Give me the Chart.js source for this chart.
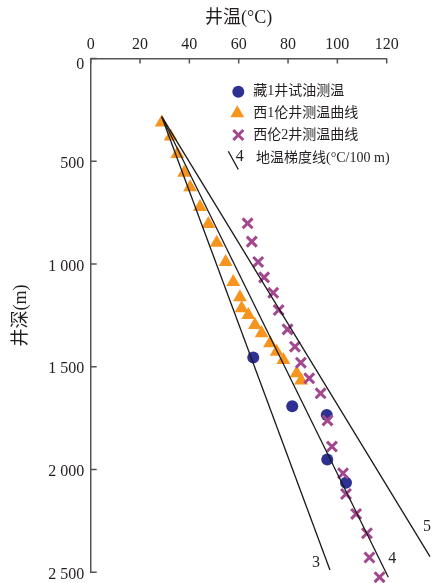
<!DOCTYPE html>
<html>
<head>
<meta charset="utf-8">
<script src="https://cdn.jsdelivr.net/npm/chart.js@4/dist/chart.umd.min.js"></script>
<style>
  html, body { margin: 0; padding: 0; background: #fff; }
  #wrap { width: 447px; height: 583px; }
</style>
</head>
<body>
<div id="wrap"><canvas id="c" width="447" height="583"></canvas></div>
<script>
// Axis ticks
const tempTicks = [0, 20, 40, 60, 80, 100, 120];
const depthTicks = [0, 500, 1000, 1500, 2000, 2500];
const depthTickLabels = ['0', '500', '1 000', '1 500', '2 000', '2 500'];

// 藏1井试油测温: temperature (°C) and depth (m)
const zang1Temp  = [65.9, 81.7, 95.7, 95.9, 103.5];
const zang1Depth = [1455, 1692, 1735, 1951, 2064];

// 西1伦井测温曲线
const xilun1Temp  = [28.8, 32.4, 35.1, 37.9, 40.3, 44.3, 47.7, 51.1, 54.7, 57.8,
                     60.5, 61.2, 63.9, 66.6, 69.3, 72.7, 75.4, 78.1, 83.5, 85.3];
const xilun1Depth = [312, 380, 465, 556, 626, 722, 805, 896, 990, 1088,
                     1162, 1215, 1248, 1297, 1337, 1386, 1427, 1467, 1531, 1567];

// 西伦2井测温曲线
const xilun2Temp  = [63.6, 65.3, 67.9, 70.3, 74.0, 76.2, 79.8, 82.8, 85.2, 88.6,
                     93.2, 96.0, 97.8, 102.3, 103.5, 107.6, 112.0, 113.0, 117.1];
const xilun2Depth = [802, 891, 990, 1065, 1140, 1224, 1318, 1402, 1480, 1556,
                     1629, 1761, 1888, 2018, 2119, 2216, 2310, 2428, 2524];

// 地温梯度线 (°C/100 m): common origin and the far end of each line
const gradNames     = ['3', '4', '5'];
const gradStart     = [28.8, 283];
const gradEndTemp   = [97.0, 120.65, 137.55];
const gradEndDepth  = [2489, 2524, 2424];

const SERIF = "'Liberation Serif', 'Times New Roman', 'Noto Sans CJK SC', serif";
const AXIS_COLOR = '#555';
const TEXT_COLOR = '#231f20';
const NAVY = '#2e3192';
const ORANGE = '#f7941d';
const PURPLE = '#a3478f';

const pts = (xs, ys) => xs.map((v, i) => ({ x: v, y: ys[i] }));

const gradDatasets = gradNames.map((n, i) => ({
  label: n,
  data: [{ x: gradStart[0], y: gradStart[1] }, { x: gradEndTemp[i], y: gradEndDepth[i] }],
  showLine: true,
  borderColor: '#1a1a1a',
  borderWidth: 1.3,
  pointRadius: 0,
  fill: false,
  clip: false
}));

const decor = {
  id: 'decor',
  afterDraw(chart) {
    const { ctx, chartArea: a, scales: { x, y } } = chart;
    ctx.save();

    // inward tick marks
    ctx.strokeStyle = AXIS_COLOR;
    ctx.lineWidth = 1.5;
    ctx.beginPath();
    x.ticks.forEach(t => {
      const px = x.getPixelForValue(t.value);
      ctx.moveTo(px, a.top);
      ctx.lineTo(px, a.top + 5);
    });
    y.ticks.forEach(t => {
      const py = y.getPixelForValue(t.value);
      ctx.moveTo(a.left, py);
      ctx.lineTo(a.left + 6, py);
    });
    ctx.stroke();

    // depth tick labels
    ctx.fillStyle = TEXT_COLOR;
    ctx.font = '16px ' + SERIF;
    ctx.textAlign = 'right';
    ctx.textBaseline = 'middle';
    y.ticks.forEach((t, i) => {
      const py = y.getPixelForValue(t.value) + (t.value === 0 ? 6.5 : 2.5);
      ctx.fillText(depthTickLabels[i], a.left - 6.5, py);
    });

    // gradient line labels near the line ends
    const offs = [[-14, -7], [4, -18], [-3, -30]];
    ctx.textAlign = 'center';
    ctx.font = '16px ' + SERIF;
    gradNames.forEach((n, i) => {
      const px = x.getPixelForValue(gradEndTemp[i]) + offs[i][0];
      const py = y.getPixelForValue(gradEndDepth[i]) + offs[i][1];
      ctx.fillText(n, px, py);
    });

    // legend
    const lx = a.left + 147.6;
    const rows = [a.top + 33.2, a.top + 54.8, a.top + 76.5, a.top + 99.5];
    const tx = a.left + 162.6;

    ctx.fillStyle = NAVY;
    ctx.beginPath();
    ctx.arc(lx, rows[0], 6, 0, Math.PI * 2);
    ctx.fill();

    const r = 8;
    ctx.fillStyle = ORANGE;
    ctx.beginPath();
    ctx.moveTo(lx - 1, rows[1] - r);
    ctx.lineTo(lx - 1 + r * 0.866, rows[1] + r * 0.5);
    ctx.lineTo(lx - 1 - r * 0.866, rows[1] + r * 0.5);
    ctx.closePath();
    ctx.fill();

    ctx.strokeStyle = PURPLE;
    ctx.lineWidth = 3;
    ctx.beginPath();
    ctx.moveTo(lx - 5, rows[2] - 5); ctx.lineTo(lx + 5, rows[2] + 5);
    ctx.moveTo(lx + 5, rows[2] - 5); ctx.lineTo(lx - 5, rows[2] + 5);
    ctx.stroke();

    ctx.strokeStyle = '#1a1a1a';
    ctx.lineWidth = 1.3;
    ctx.beginPath();
    ctx.moveTo(lx - 10, rows[3] - 6.8);
    ctx.lineTo(lx, rows[3] + 11.5);
    ctx.stroke();

    ctx.fillStyle = TEXT_COLOR;
    ctx.textAlign = 'left';
    ctx.font = '16px ' + SERIF;
    ctx.fillText('4', lx - 2.5, rows[3] - 1);

    ctx.font = '14px ' + SERIF;
    ctx.fillText('藏1井试油测温', tx, rows[0]);
    ctx.fillText('西1伦井测温曲线', tx, rows[1]);
    ctx.fillText('西伦2井测温曲线', tx, rows[2]);
    ctx.fillText('地温梯度线(°C/100 m)', tx + 2.7, rows[3]);

    ctx.restore();
  }
};

new Chart(document.getElementById('c'), {
  type: 'scatter',
  data: {
    datasets: [
      ...gradDatasets,
      {
        label: '西伦2井测温曲线',
        data: pts(xilun2Temp, xilun2Depth),
        pointStyle: 'crossRot',
        pointRadius: 7,
        borderColor: PURPLE,
        borderWidth: 3,
        clip: false
      },
      {
        label: '西1伦井测温曲线',
        data: pts(xilun1Temp, xilun1Depth),
        pointStyle: 'triangle',
        pointRadius: 8,
        backgroundColor: ORANGE,
        borderColor: ORANGE,
        borderWidth: 0,
        clip: false
      },
      {
        label: '藏1井试油测温',
        data: pts(zang1Temp, zang1Depth),
        pointStyle: 'circle',
        pointRadius: 6,
        backgroundColor: NAVY,
        borderColor: NAVY,
        borderWidth: 0,
        clip: false
      }
    ]
  },
  options: {
    responsive: false,
    animation: false,
    events: [],
    layout: { padding: { left: 0, top: 0, right: 60.3, bottom: 10.7 } },
    plugins: { legend: { display: false }, tooltip: { enabled: false } },
    scales: {
      x: {
        type: 'linear',
        position: 'top',
        min: 0,
        max: 120,
        afterBuildTicks: s => { s.ticks = tempTicks.map(v => ({ value: v })); },
        afterFit: s => { s.height = 58.5; },
        grid: { drawOnChartArea: false, drawTicks: false },
        border: { display: true, color: AXIS_COLOR, width: 1.5 },
        ticks: {
          color: TEXT_COLOR,
          padding: 4,
          font: { family: SERIF, size: 16 },
          callback: v => String(v)
        },
        title: {
          display: true,
          text: '井温(°C)',
          color: TEXT_COLOR,
          font: { family: SERIF, size: 18 },
          padding: { top: 7.2, bottom: 0 }
        }
      },
      y: {
        type: 'linear',
        reverse: true,
        min: 0,
        max: 2500,
        afterBuildTicks: s => { s.ticks = depthTicks.map(v => ({ value: v })); },
        afterFit: s => { s.width = 90.7; },
        grid: { drawOnChartArea: false, drawTicks: false },
        border: { display: true, color: AXIS_COLOR, width: 1.5 },
        ticks: { display: false },
        title: {
          display: true,
          text: '井深(m)',
          color: TEXT_COLOR,
          font: { family: SERIF, size: 18 },
          padding: { top: 10.9, bottom: 0 }
        }
      }
    }
  },
  plugins: [decor]
});
</script>
</body>
</html>
